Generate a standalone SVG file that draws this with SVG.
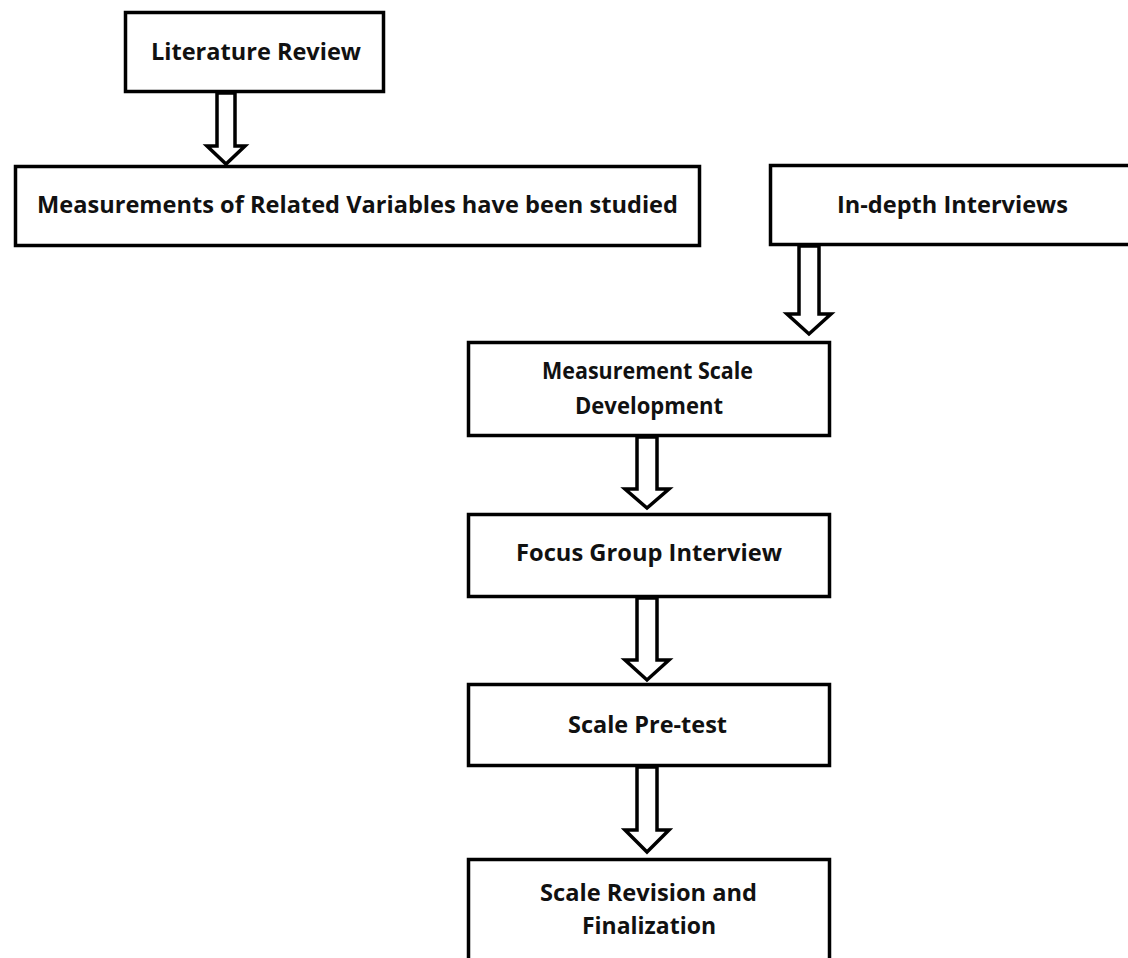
<svg xmlns="http://www.w3.org/2000/svg" width="1128" height="958" viewBox="0 0 1128 958">
  <style>
    .box { fill: #ffffff; stroke: #000000; stroke-width: 3.5; }
    .arrow { fill: #ffffff; stroke: #000000; stroke-width: 3.5; stroke-linejoin: miter; }
    .label { font-family: "Open Sans", "Liberation Sans", sans-serif; font-weight: 700; font-size: 23px; fill: #111111; text-anchor: middle; }
  </style>
  <rect width="1128" height="958" fill="#ffffff"/>

  <!-- process steps -->
  <g id="literature-review">
    <rect class="box" x="125.5" y="12.5" width="258" height="79"/>
    <text class="label" x="256" y="60" textLength="210" lengthAdjust="spacingAndGlyphs">Literature Review</text>
  </g>
  <g id="related-variables">
    <rect class="box" x="15.5" y="166.5" width="684" height="79"/>
    <text class="label" x="357.5" y="213" textLength="641" lengthAdjust="spacingAndGlyphs">Measurements of Related Variables have been studied</text>
  </g>
  <g id="in-depth-interviews">
    <rect class="box" x="770.5" y="165.5" width="400" height="79"/>
    <text class="label" x="952.5" y="213" textLength="231" lengthAdjust="spacingAndGlyphs">In-depth Interviews</text>
  </g>
  <g id="scale-development">
    <rect class="box" x="468.5" y="342.5" width="361" height="93"/>
    <text class="label" x="647.5" y="379" textLength="211" lengthAdjust="spacingAndGlyphs">Measurement Scale</text>
    <text class="label" x="649" y="414" textLength="148" lengthAdjust="spacingAndGlyphs">Development</text>
  </g>
  <g id="focus-group">
    <rect class="box" x="468.5" y="514.5" width="361" height="82"/>
    <text class="label" x="649" y="561" textLength="266" lengthAdjust="spacingAndGlyphs">Focus Group Interview</text>
  </g>
  <g id="pre-test">
    <rect class="box" x="468.5" y="684.5" width="361" height="81"/>
    <text class="label" x="647.5" y="733" textLength="159" lengthAdjust="spacingAndGlyphs">Scale Pre-test</text>
  </g>
  <g id="revision-finalization">
    <rect class="box" x="468.5" y="859.5" width="361" height="120"/>
    <text class="label" x="648.5" y="901" textLength="217" lengthAdjust="spacingAndGlyphs">Scale Revision and</text>
    <text class="label" x="649" y="934" textLength="134" lengthAdjust="spacingAndGlyphs">Finalization</text>
  </g>

  <!-- hollow block arrows between steps -->
  <g id="connectors">
    <polygon class="arrow" points="217,93 235,93 235,146 245,146 226,164 207,146 217,146"/>
    <polygon class="arrow" points="799,246 819,246 819,314 831,314 809,334 787,314 799,314"/>
    <polygon class="arrow" points="637,437 657,437 657,489 669,489 647,508 625,489 637,489"/>
    <polygon class="arrow" points="637,598 657,598 657,660 669,660 647,680 625,660 637,660"/>
    <polygon class="arrow" points="637,767 657,767 657,830 669,830 647,852 625,830 637,830"/>
  </g>
</svg>
